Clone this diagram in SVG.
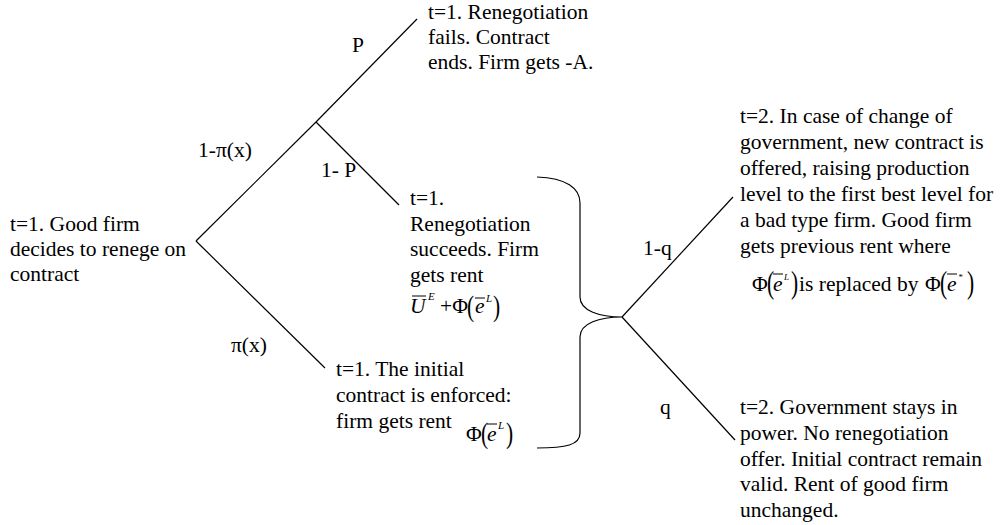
<svg xmlns="http://www.w3.org/2000/svg" width="1005" height="525" viewBox="0 0 1005 525" font-family="Liberation Serif, Times New Roman, serif">
<style>
text{font-family:'Liberation Serif','Times New Roman',serif;font-size:21.5px;fill:#000}
.it{font-style:italic}
.sup{font-size:11px;font-style:italic}
.ln{stroke:#000;stroke-width:1.2;fill:none}
.bar{stroke:#000;stroke-width:1}
</style>
<rect width="1005" height="525" fill="#fff"/>
<g id="connectors">
<line class="ln" x1="196" y1="241" x2="316" y2="122"/>
<line class="ln" x1="316" y1="122" x2="417" y2="19"/>
<line class="ln" x1="316" y1="122" x2="399" y2="205"/>
<line class="ln" x1="196" y1="241" x2="325" y2="368"/>
<path class="ln" d="M537,177 C566,178 580,188 580,203 L580,297 C580,311 600,317 622,317 C600,317 580,323 580,337 L580,433 C580,445 566,448 537,448"/>
<line class="ln" x1="622" y1="317" x2="733" y2="197"/>
<line class="ln" x1="622" y1="317" x2="735" y2="440"/>
</g>
<g id="labels">
<text x="352" y="52">P</text>
<text x="198" y="157">1-π(x)</text>
<text x="321" y="177">1- P</text>
<text x="231" y="352">π(x)</text>
<text x="643" y="255">1-q</text>
<text x="660" y="414">q</text>
</g>
<g id="root">
<text x="10" y="231">t=1. Good firm</text>
<text x="10" y="256">decides to renege on</text>
<text x="10" y="281">contract</text>
</g>
<g id="fail">
<text x="428" y="19">t=1. Renegotiation</text>
<text x="428" y="44">fails. Contract</text>
<text x="428" y="69">ends. Firm gets -A.</text>
</g>
<g id="succeed">
<text x="410" y="205">t=1.</text>
<text x="410" y="230.5">Renegotiation</text>
<text x="410" y="256">succeeds. Firm</text>
<text x="410" y="281.5">gets rent</text>
<text class="it" x="410" y="313">U</text>
<line class="bar" x1="412" y1="296" x2="426" y2="296"/>
<text class="sup" x="428" y="300">E</text>
<text x="440" y="313">+Φ</text>
<text transform="translate(467,316) scale(1,1.35)">(</text>
<text class="it" x="475" y="313">e</text>
<line class="bar" x1="475" y1="298" x2="485" y2="298"/>
<text class="sup" x="486" y="302">L</text>
<text transform="translate(493,316) scale(1,1.35)">)</text>
</g>
<g id="enforced">
<text x="336" y="376">t=1. The initial</text>
<text x="336" y="402">contract is enforced:</text>
<text x="336" y="428">firm gets rent</text>
<text x="466" y="441">Φ</text>
<text transform="translate(481,443) scale(1,1.4)">(</text>
<text class="it" x="487" y="441">e</text>
<line class="bar" x1="487" y1="424" x2="497" y2="424"/>
<text class="sup" x="498" y="429">L</text>
<text transform="translate(506,443) scale(1,1.4)">)</text>
</g>
<g id="change">
<text x="740" y="123">t=2. In case of change of</text>
<text x="740" y="149">government, new contract is</text>
<text x="740" y="175">offered, raising production</text>
<text x="740" y="201">level to the first best level for</text>
<text x="740" y="227">a bad type firm. Good firm</text>
<text x="740" y="253">gets previous rent where</text>
<text x="752" y="291">Φ</text>
<text transform="translate(767,293) scale(1,1.5)">(</text>
<text class="it" x="773" y="291">e</text>
<line class="bar" x1="773" y1="274" x2="783" y2="274"/>
<text class="sup" x="784" y="280" style="font-size:9px">L</text>
<text transform="translate(791,293) scale(1,1.5)">)</text>
<text x="799" y="291">is replaced by</text>
<text x="925" y="291">Φ</text>
<text transform="translate(940,293) scale(1,1.5)">(</text>
<text class="it" x="947" y="291">e</text>
<line class="bar" x1="947" y1="274" x2="957" y2="274"/>
<text class="sup" x="958" y="280" style="font-size:9px">*</text>
<text transform="translate(967,293) scale(1,1.5)">)</text>
</g>
<g id="stay">
<text x="740" y="414">t=2. Government stays in</text>
<text x="740" y="440">power. No renegotiation</text>
<text x="740" y="466">offer. Initial contract remain</text>
<text x="740" y="491">valid. Rent of good firm</text>
<text x="740" y="517">unchanged.</text>
</g>
</svg>
